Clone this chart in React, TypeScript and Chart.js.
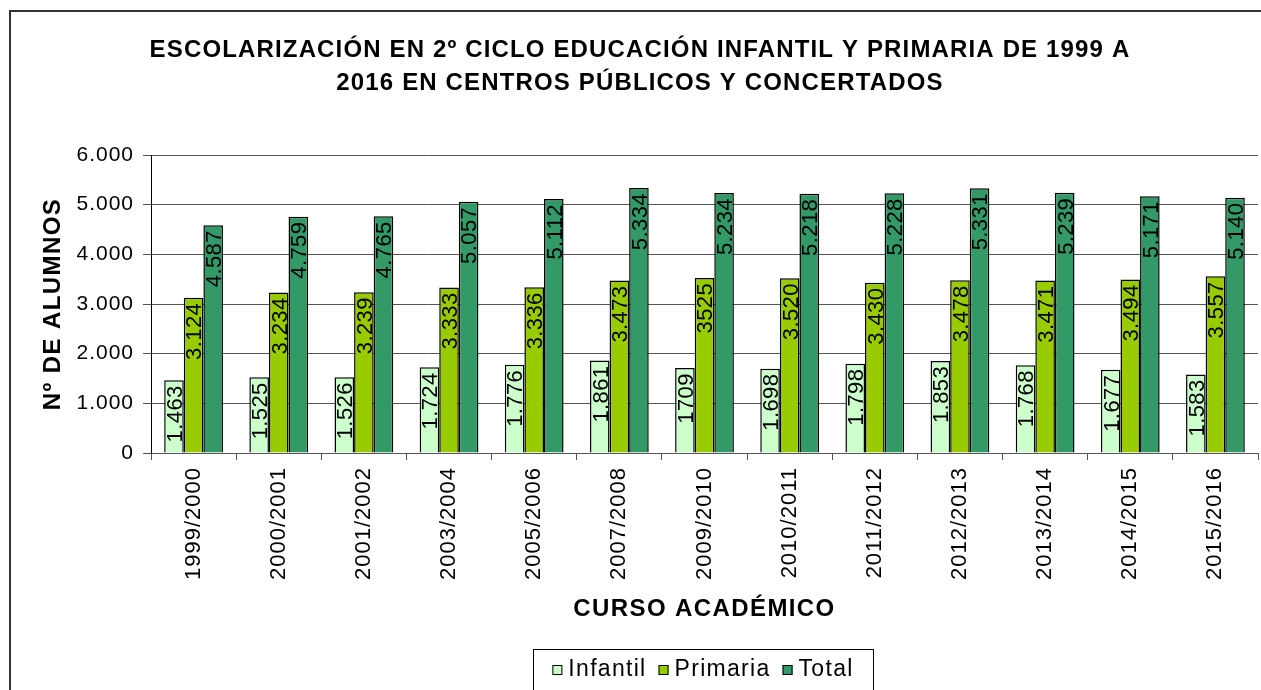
import React, { useEffect, useRef } from 'react';
import { Chart, registerables } from 'chart.js';

Chart.register(...registerables);

const categories = ['1999/2000', '2000/2001', '2001/2002', '2003/2004', '2005/2006', '2007/2008', '2009/2010', '2010/2011', '2011/2012', '2012/2013', '2013/2014', '2014/2015', '2015/2016'];
const infantil = [1463, 1525, 1526, 1724, 1776, 1861, 1709, 1698, 1798, 1853, 1768, 1677, 1583];
const primaria = [3124, 3234, 3239, 3333, 3336, 3473, 3525, 3520, 3430, 3478, 3471, 3494, 3557];
const total = [4587, 4759, 4765, 5057, 5112, 5334, 5234, 5218, 5228, 5331, 5239, 5171, 5140];
const infantilLabels = ['1.463', '1.525', '1.526', '1.724', '1.776', '1.861', '1709', '1.698', '1.798', '1.853', '1.768', '1.677', '1.583'];
const primariaLabels = ['3.124', '3.234', '3.239', '3.333', '3.336', '3.473', '3525', '3.520', '3.430', '3.478', '3.471', '3.494', '3.557'];
const totalLabels = ['4.587', '4.759', '4.765', '5.057', '5.112', '5.334', '5.234', '5.218', '5.228', '5.331', '5.239', '5.171', '5.140'];
const seriesNames = ['Infantil', 'Primaria', 'Total'];
const seriesColors = ['#CCFFCC', '#99CC00', '#339966'];
const titleLines = ['ESCOLARIZACIÓN EN 2º CICLO EDUCACIÓN INFANTIL Y PRIMARIA DE 1999 A', '2016 EN CENTROS PÚBLICOS Y CONCERTADOS'];
const yAxisTitle = 'Nº DE ALUMNOS';
const xAxisTitle = 'CURSO ACADÉMICO';
const yMin = 0;
const yMax = 6000;
const yStep = 1000;

const FONT = '"Liberation Sans", Arial, sans-serif';
const allLabels = [infantilLabels, primariaLabels, totalLabels];

const fmt = (v: number) => String(v).replace(/\B(?=(\d{3})+(?!\d))/g, '.');

const setLS = (ctx: any, px: number) => {
  try { ctx.letterSpacing = `${px}px`; } catch (e) { /* ignore */ }
};

const decorPlugin = {
  id: 'decor',
  beforeDraw(chart: any) {
    const ctx = chart.ctx;
    ctx.save();
    ctx.fillStyle = '#ffffff';
    ctx.fillRect(0, 0, chart.width, chart.height);
    ctx.strokeStyle = '#333333';
    ctx.lineWidth = 2;
    ctx.strokeRect(10, 11, chart.width + 50, chart.height + 50);
    // title
    ctx.fillStyle = '#000';
    ctx.font = `bold 24px ${FONT}`;
    setLS(ctx, 1.15);
    ctx.textAlign = 'center';
    ctx.textBaseline = 'alphabetic';
    ctx.fillText(titleLines[0], 640, 57);
    ctx.fillText(titleLines[1], 640, 90);
    // axis titles
    setLS(ctx, 1.4);
    ctx.fillText(xAxisTitle, (chart.chartArea.left + chart.chartArea.right) / 2, 616);
    ctx.save();
    ctx.translate(60, (chart.chartArea.top + chart.chartArea.bottom) / 2);
    ctx.rotate(-Math.PI / 2);
    ctx.fillText(yAxisTitle, 0, 0);
    ctx.restore();
    ctx.restore();
    // letter spacing for chart.js tick labels
    setLS(ctx, 1.0);
  },
  afterDatasetsDraw(chart: any) {
    const ctx = chart.ctx;
    ctx.save();
    ctx.font = `22px ${FONT}`;
    setLS(ctx, 0.4);
    ctx.fillStyle = '#000';
    ctx.textAlign = 'right';
    ctx.textBaseline = 'alphabetic';
    const capH = 22 * 0.716;
    chart.data.datasets.forEach((ds: any, di: number) => {
      const meta = chart.getDatasetMeta(di);
      meta.data.forEach((el: any, i: number) => {
        const txt = allLabels[di][i];
        ctx.save();
        ctx.translate(el.x + capH / 2, el.y + 5);
        ctx.rotate(-Math.PI / 2);
        ctx.fillText(txt, 0, 0);
        ctx.restore();
      });
    });
    ctx.restore();
  },
  afterDraw(chart: any) {
    const ctx = chart.ctx;
    ctx.save();
    // legend
    const boxX = 533, boxY = 649, boxW = 340;
    ctx.strokeStyle = '#000';
    ctx.lineWidth = 1;
    ctx.strokeRect(boxX + 0.5, boxY + 0.5, boxW, 80);
    ctx.font = `23px ${FONT}`;
    setLS(ctx, 1.3);
    ctx.textBaseline = 'middle';
    ctx.textAlign = 'left';
    const sq = 10, gapSq = 6, gapItem = 12;
    const widths = seriesNames.map((n) => ctx.measureText(n).width);
    const totalW = widths.reduce((a, w) => a + sq + gapSq + w, 0) + gapItem * (seriesNames.length - 1);
    let x = boxX + (boxW - totalW) / 2;
    const cy = 670;
    seriesNames.forEach((n, i) => {
      ctx.fillStyle = seriesColors[i];
      ctx.fillRect(x, cy - sq / 2, sq, sq);
      ctx.strokeStyle = '#000';
      ctx.strokeRect(x + 0.5, cy - sq / 2 + 0.5, sq - 1, sq - 1);
      ctx.fillStyle = '#000';
      ctx.fillText(n, x + sq + gapSq, cy);
      x += sq + gapSq + widths[i] + gapItem;
    });
    ctx.restore();
  },
};

export default function App() {
  const ref = useRef<HTMLCanvasElement | null>(null);
  useEffect(() => {
    if (!ref.current) return;
    const chart = new Chart(ref.current, {
      type: 'bar',
      data: {
        labels: categories,
        datasets: [infantil, primaria, total].map((d, i) => ({
          label: seriesNames[i],
          data: d,
          backgroundColor: seriesColors[i],
          borderColor: '#000',
          borderWidth: 1.5,
          categoryPercentage: 0.69,
          barPercentage: 1.0,
        })),
      },
      options: {
        animation: false,
        responsive: true,
        maintainAspectRatio: false,
        layout: { padding: { top: 155, left: 0, right: 3, bottom: 0 } },
        plugins: {
          legend: { display: false },
          title: { display: false },
          tooltip: { enabled: false },
        },
        scales: {
          x: {
            afterFit: (s: any) => { s.height = 690 - 453; },
            ticks: {
              color: '#000',
              font: { family: FONT, size: 22 },
              minRotation: 90,
              maxRotation: 90,
              padding: 7,
              autoSkip: false,
            },
            grid: { drawOnChartArea: false, tickLength: 7, color: '#555', offset: true },
            border: { color: '#555', width: 1 },
          },
          y: {
            min: yMin,
            max: yMax,
            afterFit: (s: any) => { s.width = 151; },
            ticks: {
              stepSize: yStep,
              color: '#000',
              font: { family: FONT, size: 21 },
              padding: 9,
              callback: (v: any) => fmt(Number(v)),
            },
            grid: { color: '#555', tickLength: 8 },
            border: { color: '#000', width: 1 },
          },
        },
      },
      plugins: [decorPlugin],
    });
    return () => chart.destroy();
  }, []);
  return (
    <div style={{ position: 'fixed', left: 0, top: 0, width: 1261, height: 690, background: '#fff' }}>
      <canvas ref={ref} />
    </div>
  );
}
